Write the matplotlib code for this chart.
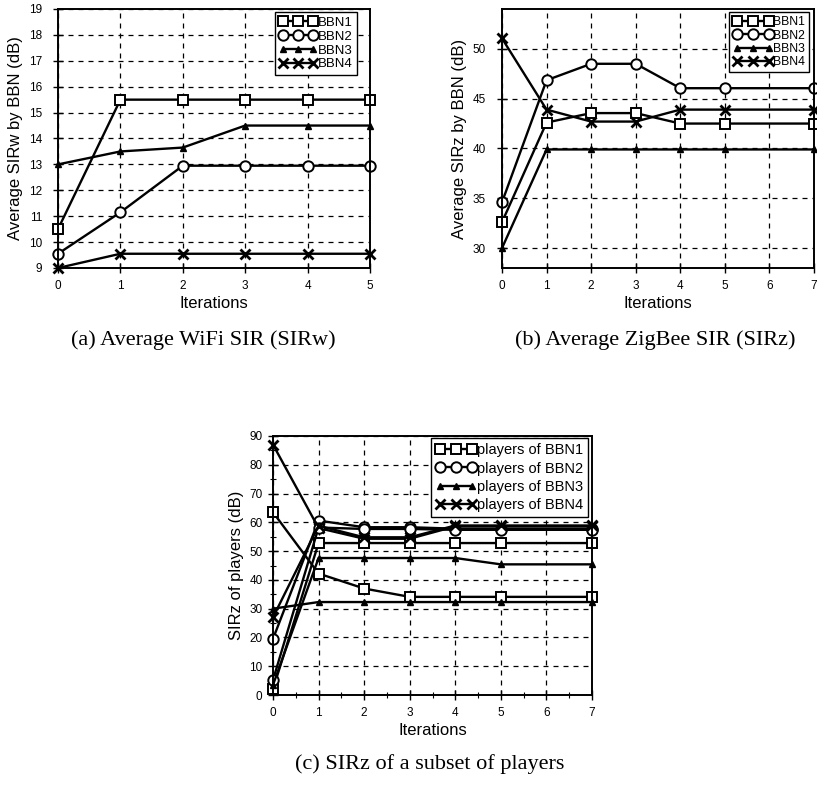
import matplotlib
matplotlib.use("Agg")
import matplotlib.pyplot as plt
from matplotlib.ticker import MultipleLocator

plt.rcParams['font.family'] = ['Liberation Sans', 'DejaVu Sans']

# (a) average WiFi SIR per BBN
it_a = [0, 1, 2, 3, 4, 5]
sirw_bbn1 = [10.5, 15.5, 15.5, 15.5, 15.5, 15.5]
sirw_bbn2 = [9.55, 11.15, 12.95, 12.95, 12.95, 12.95]
sirw_bbn3 = [13.0, 13.5, 13.65, 14.5, 14.5, 14.5]
sirw_bbn4 = [9.0, 9.55, 9.55, 9.55, 9.55, 9.55]

# (b) average ZigBee SIR per BBN (no point at iteration 6)
it_b = [0, 1, 2, 3, 4, 5, 7]
sirz_bbn1 = [32.6, 42.6, 43.55, 43.55, 42.5, 42.5, 42.5]
sirz_bbn2 = [34.6, 46.85, 48.5, 48.5, 46.05, 46.05, 46.05]
sirz_bbn3 = [30.0, 39.9, 39.9, 39.9, 39.9, 39.9, 39.9]
sirz_bbn4 = [51.05, 43.9, 42.7, 42.7, 43.9, 43.9, 43.9]

# (c) SIRz of players, two per BBN
it_c = [0, 1, 2, 3, 4, 5, 7]
p1a = [63.5, 42.2, 37.0, 34.1, 34.1, 34.1, 34.1]
p1b = [2.0, 52.8, 52.8, 52.8, 52.8, 52.8, 52.8]
p2a = [19.5, 60.6, 58.3, 58.3, 57.8, 57.8, 57.8]
p2b = [5.2, 58.2, 57.7, 57.7, 57.4, 57.4, 57.4]
p3a = [30.0, 32.3, 32.3, 32.3, 32.3, 32.3, 32.3]
p3b = [3.5, 47.6, 47.6, 47.6, 47.6, 45.4, 45.4]
p4a = [87.0, 58.0, 54.3, 54.3, 58.6, 58.6, 58.6]
p4b = [27.0, 58.8, 54.8, 54.8, 58.9, 58.9, 58.9]

W, H = 817, 787
fig = plt.figure(figsize=(W / 100, H / 100), dpi=100)

def px_axes(left, top, right, bottom):
    return fig.add_axes([left / W, 1 - bottom / H, (right - left) / W, (bottom - top) / H])

sq = dict(marker='s', ms=7, mfc='white', mec='black', mew=1.4)
ci = dict(marker='o', ms=7.5, mfc='white', mec='black', mew=1.4)
tr = dict(marker='^', ms=4.5, mfc='black', mec='black')
xx = dict(marker='x', ms=7, mec='black', mew=2)
line = dict(color='black', lw=1.7)

def style(ax, xlabel, ylabel, ypad):
    ax.grid(True, color='black', ls=(0, (4, 4)), lw=0.9)
    ax.set_axisbelow(True)
    for s in ax.spines.values():
        s.set_linewidth(1.4)
    ax.tick_params(direction='inout', length=7, width=1, labelsize=8.5)
    ax.tick_params(axis='x', pad=5)
    ax.tick_params(axis='y', pad=ypad)
    ax.tick_params(which='minor', direction='inout', length=4, width=0.8)
    ax.set_xlabel(xlabel, fontsize=12, labelpad=3)
    ax.set_ylabel(ylabel, fontsize=12, labelpad=4)

def leg(ax, fs, anchor, hl, spacing):
    l = ax.legend(loc='upper right', bbox_to_anchor=anchor, fontsize=fs, numpoints=3,
                  handlelength=hl, handletextpad=0.0, borderpad=0.35, labelspacing=spacing,
                  borderaxespad=0, fancybox=False, framealpha=1, edgecolor='black')
    l.get_frame().set_linewidth(1.0)

# panel (a)
ax = px_axes(58, 9, 370, 268)
ax.plot(it_a, sirw_bbn1, label='BBN1', **line, **sq)
ax.plot(it_a, sirw_bbn2, label='BBN2', **line, **ci)
ax.plot(it_a, sirw_bbn3, label='BBN3', **line, **tr)
ax.plot(it_a, sirw_bbn4, label='BBN4', **line, **xx)
ax.set_xlim(0, 5)
ax.set_ylim(9, 19)
ax.xaxis.set_major_locator(MultipleLocator(1))
ax.yaxis.set_major_locator(MultipleLocator(1))
style(ax, 'Iterations', 'Average SIRw by BBN (dB)', 8)
leg(ax, 9.5, (0.958, 0.988), 2.9, 0.12)
for a in ax.lines:
    a.set_clip_on(False)

# panel (b)
ax = px_axes(502, 9, 814, 268)
ax.plot(it_b, sirz_bbn1, label='BBN1', **line, **sq)
ax.plot(it_b, sirz_bbn2, label='BBN2', **line, **ci)
ax.plot(it_b, sirz_bbn3, label='BBN3', **line, **tr)
ax.plot(it_b, sirz_bbn4, label='BBN4', **line, **xx)
ax.set_xlim(0, 7)
ax.set_ylim(28, 54)
ax.xaxis.set_major_locator(MultipleLocator(1))
ax.yaxis.set_major_locator(MultipleLocator(5))
style(ax, 'Iterations', 'Average SIRz by BBN (dB)', 8)
leg(ax, 8.8, (0.984, 0.988), 3.2, 0.1)
for a in ax.lines:
    a.set_clip_on(False)

# panel (c)
ax = px_axes(273, 436, 592, 695)
ax.plot(it_c, p1a, label='players of BBN1', **line, **sq)
ax.plot(it_c, p2a, label='players of BBN2', **line, **ci)
ax.plot(it_c, p3a, label='players of BBN3', **line, **tr)
ax.plot(it_c, p4a, label='players of BBN4', **line, **xx)
ax.plot(it_c, p1b, **line, **sq)
ax.plot(it_c, p2b, **line, **ci)
ax.plot(it_c, p3b, **line, **tr)
ax.plot(it_c, p4b, **line, **xx)
ax.set_xlim(0, 7)
ax.set_ylim(0, 90)
ax.xaxis.set_major_locator(MultipleLocator(1))
ax.xaxis.set_minor_locator(MultipleLocator(0.5))
ax.yaxis.set_major_locator(MultipleLocator(10))
ax.yaxis.set_minor_locator(MultipleLocator(5))
style(ax, 'Iterations', 'SIRz of players (dB)', 4)
leg(ax, 10.5, (0.987, 0.992), 2.8, 0.3)
for a in ax.lines:
    a.set_clip_on(False)

cap = dict(ha='center', va='center', fontsize=16, family=['Liberation Serif', 'DejaVu Serif'])
fig.text(203 / W, 1 - 340 / H, '(a) Average WiFi SIR (SIRw)', **cap)
fig.text(655 / W, 1 - 340 / H, '(b) Average ZigBee SIR (SIRz)', **cap)
fig.text(430 / W, 1 - 764 / H, '(c) SIRz of a subset of players', **cap)

fig.savefig('out.png', dpi=100)
